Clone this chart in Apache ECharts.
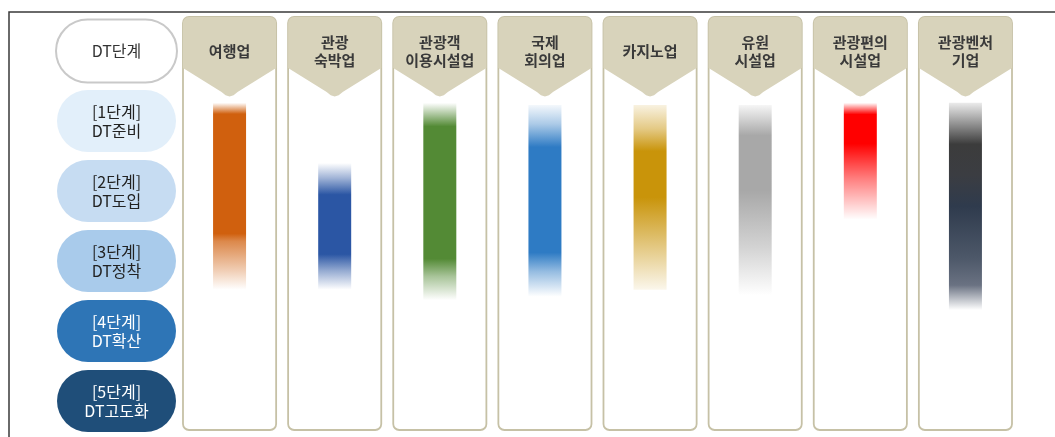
<!DOCTYPE html>
<html><head><meta charset="utf-8">
<script src="https://cdn.jsdelivr.net/npm/echarts@6/dist/echarts.min.js"></script>
<style>html,body{margin:0;padding:0;background:#fff}#c{width:1055px;height:437px}</style>
</head><body><div id="c"></div>
<script>
// ---- data ----
const industries = ['여행업','관광\n숙박업','관광객\n이용시설업','국제\n회의업','카지노업','유원\n시설업','관광편의\n시설업','관광벤처\n기업'];
const stageLabels = ['DT단계','[1단계]\nDT준비','[2단계]\nDT도입','[3단계]\nDT정착','[4단계]\nDT확산','[5단계]\nDT고도화'];
// stage range covered by each industry's bar (0 = header row, 1..5 = stages)
const stageStart = [0.74, 1.60, 0.74, 0.77, 0.77, 0.77, 0.74, 0.74];
const stageEnd   = [3.41, 3.41, 3.56, 3.51, 3.41, 3.49, 2.41, 3.70];

// ---- styles ----
const FONT = '"Noto Sans CJK KR", "Noto Sans", sans-serif';
const pillStyles = [
  {bg:'#ffffff', color:'#333333', border:'#c9c9c9', bw:2},
  {bg:'#e2effa', color:'#222222', border:'#e2effa', bw:0},
  {bg:'#c6dcf2', color:'#222222', border:'#c6dcf2', bw:0},
  {bg:'#a9cbeb', color:'#222222', border:'#a9cbeb', bw:0},
  {bg:'#2e75b6', color:'#ffffff', border:'#2e75b6', bw:0},
  {bg:'#1f4e79', color:'#ffffff', border:'#1f4e79', bw:0}
];
function rgba(rgb, a){ return 'rgba(' + rgb + ',' + a + ')'; }
const barGradients = [
  [[0,rgba('208,96,14',0)],[0.06,rgba('208,96,14',1)],[0.70,rgba('208,96,14',1)],[0.74,rgba('208,96,14',0.75)],[0.9,rgba('208,96,14',0.3)],[1,rgba('208,96,14',0)]],
  [[0,rgba('43,86,164',0)],[0.12,rgba('43,86,164',0.45)],[0.25,rgba('43,86,164',1)],[0.72,rgba('43,86,164',1)],[0.85,rgba('43,86,164',0.5)],[1,rgba('43,86,164',0)]],
  [[0,rgba('83,138,53',0)],[0.12,rgba('83,138,53',1)],[0.79,rgba('83,138,53',1)],[0.88,rgba('83,138,53',0.5)],[1,rgba('83,138,53',0)]],
  [[0,rgba('46,123,196',0.05)],[0.1,rgba('46,123,196',0.4)],[0.22,rgba('46,123,196',1)],[0.77,rgba('46,123,196',1)],[0.87,rgba('46,123,196',0.5)],[1,rgba('46,123,196',0)]],
  [[0,rgba('201,148,10',0.12)],[0.13,rgba('201,148,10',0.5)],[0.25,rgba('201,148,10',1)],[0.5,rgba('201,148,10',1)],[0.72,rgba('201,148,10',0.6)],[1,rgba('201,148,10',0.08)]],
  [[0,rgba('168,168,168',0.1)],[0.16,rgba('168,168,168',1)],[0.45,rgba('168,168,168',1)],[0.75,rgba('168,168,168',0.5)],[1,rgba('168,168,168',0)]],
  [[0,rgba('255,0,0',0)],[0.1,rgba('255,0,0',1)],[0.35,rgba('255,0,0',1)],[0.65,rgba('255,0,0',0.5)],[1,rgba('255,0,0',0)]],
  [[0,'rgba(60,60,60,0.1)'],[0.2,'#3c3c3c'],[0.35,'#3b3d42'],[0.5,'#2f3b4d'],[0.75,'#4d5869'],[0.88,'#6a7282'],[1,'rgba(106,114,130,0)']]
];

function arcPts(cx, cy, r, a0, a1){
  const pts = [];
  for (let k = 0; k <= 6; k++){ const a = a0 + (a1 - a0) * k / 6; pts.push([cx + r*Math.cos(a), cy + r*Math.sin(a)]); }
  return pts;
}

function renderPanel(params, api){
  const idx = api.value(0);
  const cx = api.coord([idx, 0])[0];
  const band = api.size([1, 0])[0];
  const half = band * 0.443;
  const top = api.coord([idx, -0.5])[1] + 1;
  const bottom = api.coord([idx, 5.5])[1] - 6;
  const l = cx - half, r = cx + half;
  const hb = top + 51, tip = top + 80;
  const slope = (tip - hb) / half;
  const pts = [].concat(
    arcPts(l + 6, top + 6, 6, Math.PI, 1.5*Math.PI),
    arcPts(r - 6, top + 6, 6, 1.5*Math.PI, 2*Math.PI),
    [[r, hb], [cx + 8, tip - 8*slope], [cx + 4, tip - 1.8], [cx, tip - 0.6], [cx - 4, tip - 1.8], [cx - 8, tip - 8*slope], [l, hb]]
  );
  return {type:'group', children:[
    {type:'rect', shape:{x:l, y:top, width:r-l, height:bottom-top, r:6}, style:{fill:'#ffffff', stroke:'#c6c1a6', lineWidth:1.8}},
    {type:'polygon', shape:{points:pts}, style:{fill:'#d8d3bb'}}
  ]};
}

function renderBar(params, api){
  const idx = api.value(0);
  const p0 = api.coord([idx, api.value(1)]);
  const p1 = api.coord([idx, api.value(2)]);
  const w = 33;
  return {type:'rect', shape:{x:p0[0]-w/2, y:p0[1], width:w, height:p1[1]-p0[1]},
    style:{fill:{type:'linear', x:0, y:0, x2:0, y2:1, colorStops: barGradients[idx].map(s => ({offset:s[0], color:s[1]}))}}};
}

const chart = echarts.init(document.getElementById('c'), null, {renderer:'canvas'});
chart.setOption({
  animation:false,
  backgroundColor:'#ffffff',
  textStyle:{fontFamily:FONT},
  grid:{left:177, right:37, top:16, bottom:1, containLabel:false, outerBoundsMode:'none'},
  graphic:[{type:'polyline', shape:{points:[[9,437],[9,12],[1055,12]]}, style:{stroke:'#3a3a3a', lineWidth:1.5, fill:null}, z:0}],
  xAxis:{type:'category', data:industries, position:'top', z:10,
    axisLine:{show:false}, axisTick:{show:false}, splitLine:{show:false},
    axisLabel:{inside:true, margin:35, verticalAlign:'middle', interval:0, fontSize:15, fontWeight:'bold', color:'#3a3a3a', lineHeight:18, fontFamily:FONT}},
  yAxis:[
    {type:'category', inverse:true,
      data: stageLabels.map((s,i) => ({value:s, textStyle:{backgroundColor:pillStyles[i].bg, color:pillStyles[i].color, borderColor:pillStyles[i].border, borderWidth:pillStyles[i].bw, padding: s.indexOf('\n') >= 0 ? [12,0,12,0] : [21,0,21,0]}})),
      axisLine:{show:false}, axisTick:{show:false}, splitLine:{show:false},
      axisLabel:{margin:1, width:119, borderRadius:31, interval:0, fontSize:16, fontFamily:FONT,
        formatter: v => v.split('\n').map(t => '{c|' + t + '}').join('\n'),
        rich:{c:{align:'center', fontSize:16, lineHeight:19, fontFamily:FONT}}}},
    {type:'value', show:false, inverse:true, min:-0.5, max:5.5}
  ],
  series:[
    {type:'custom', coordinateSystem:'cartesian2d', xAxisIndex:0, yAxisIndex:1, z:2, silent:true,
      data: industries.map((n,i) => [i, 0]), renderItem: renderPanel},
    {type:'custom', coordinateSystem:'cartesian2d', xAxisIndex:0, yAxisIndex:1, z:3, silent:true,
      encode:{x:0, y:[1,2]},
      data: industries.map((n,i) => [i, stageStart[i], stageEnd[i]]), renderItem: renderBar}
  ]
});
</script></body></html>
